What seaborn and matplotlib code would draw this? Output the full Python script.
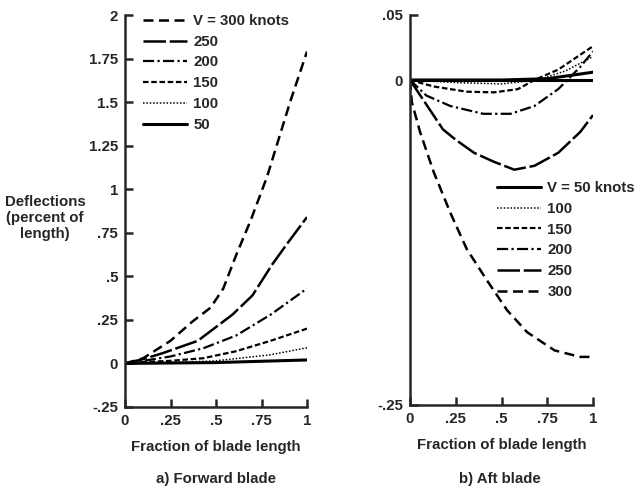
import matplotlib
matplotlib.use("Agg")
import matplotlib.pyplot as plt
import seaborn as sns
import pandas as pd
import numpy as np

sns.set_style("ticks")
plt.rcParams['font.family'] = ['Liberation Sans', 'DejaVu Sans']
plt.rcParams['font.weight'] = 'bold'

speeds = ['300', '250', '200', '150', '100', '50']

# a) Forward blade
fwd_x = {
    '300': [0, 0.1, 0.25, 0.37, 0.47, 0.54, 0.61, 0.69, 0.78, 0.91, 1.0],
    '250': [0, 0.1, 0.21, 0.4, 0.59, 0.7, 0.81, 0.9, 1.0],
    '200': [0, 0.1, 0.25, 0.43, 0.61, 0.8, 1.0],
    '150': [0, 0.1, 0.25, 0.43, 0.61, 0.8, 1.0],
    '100': [0, 0.25, 0.5, 0.8, 1.0],
    '50':  [0, 0.5, 1.0],
}
fwd_y = {
    '300': [0, 0.03, 0.13, 0.24, 0.32, 0.43, 0.62, 0.82, 1.07, 1.51, 1.79],
    '250': [0, 0.025, 0.06, 0.13, 0.28, 0.39, 0.57, 0.70, 0.84],
    '200': [0, 0.015, 0.04, 0.087, 0.16, 0.28, 0.43],
    '150': [0, 0.008, 0.015, 0.03, 0.07, 0.13, 0.20],
    '100': [0, 0.005, 0.015, 0.05, 0.09],
    '50':  [0, 0.005, 0.02],
}

# b) Aft blade
aft_x = {
    '300': [0, 0.01, 0.055, 0.13, 0.22, 0.31, 0.42, 0.53, 0.64, 0.79, 0.93, 1.0],
    '250': [0, 0.09, 0.18, 0.25, 0.35, 0.46, 0.57, 0.68, 0.81, 0.93, 1.0],
    '200': [0, 0.09, 0.22, 0.4, 0.55, 0.68, 0.81, 0.86, 0.93, 1.0],
    '150': [0, 0.13, 0.31, 0.46, 0.59, 0.68, 0.81, 1.0],
    '100': [0, 0.25, 0.5, 0.7, 0.85, 1.0],
    '50':  [0, 0.5, 0.75, 1.0],
}
aft_y = {
    '300': [0, -0.017, -0.04, -0.071, -0.102, -0.13, -0.154, -0.177, -0.194, -0.208, -0.213, -0.213],
    '250': [0, -0.019, -0.038, -0.046, -0.056, -0.063, -0.069, -0.066, -0.056, -0.04, -0.027],
    '200': [0, -0.012, -0.02, -0.026, -0.026, -0.02, -0.007, 0.0, 0.01, 0.022],
    '150': [0, -0.005, -0.009, -0.0095, -0.007, 0.0, 0.008, 0.026],
    '100': [0, -0.002, -0.003, 0.0, 0.007, 0.018],
    '50':  [0, 0.0, 0.001, 0.006],
}

x_ticks = [0, 0.25, 0.5, 0.75, 1]
x_ticklabels = ['0', '.25', '.5', '.75', '1']
fwd_yticks = [-0.25, 0, 0.25, 0.5, 0.75, 1, 1.25, 1.5, 1.75, 2]
fwd_yticklabels = ['-.25', '0', '.25', '.5', '.75', '1', '1.25', '1.5', '1.75', '2']
aft_yticks = [-0.25, 0, 0.05]
aft_yticklabels = ['-.25', '0', '.05']

dashes = {
    '300': (0, (4, 2.2)),
    '250': (0, (9, 1.5)),
    '200': (0, (5, 1.5, 1, 1.5)),
    '150': (0, (2.5, 1.2)),
    '100': (0, (1, 1.2)),
    '50': '-',
}
widths = {'300': 1.8, '250': 1.8, '200': 1.6, '150': 1.6, '100': 1.1, '50': 2.2}

FS = 10.8
fig = plt.figure(figsize=(6.38, 4.93), dpi=100)
axL = fig.add_axes([125/638, 86/493, 182/638, 392/493])
axR = fig.add_axes([410/638, 88/493, 183/638, 390/493])

handles = {}
for ax, xd, yd in [(axL, fwd_x, fwd_y), (axR, aft_x, aft_y)]:
    handles[ax] = {}
    for s in speeds:
        n0 = len(ax.get_lines())
        sns.lineplot(x=xd[s], y=yd[s], ax=ax, color='black', linewidth=widths[s],
                     linestyle=dashes[s], sort=False, estimator=None)
        handles[ax][s] = ax.get_lines()[n0]

axR.axhline(0, color='black', lw=2.2, xmin=0, xmax=1)

for ax in (axL, axR):
    ax.set_xlim(0, 1)
    ax.set_xticks(x_ticks)
    ax.set_xticklabels(x_ticklabels)
    ax.set_xlabel('Fraction of blade length', fontsize=FS, fontweight='bold', labelpad=9)
    ax.set_ylabel('')
    for sp in ('top', 'right'):
        ax.spines[sp].set_visible(False)
    for sp in ('left', 'bottom'):
        ax.spines[sp].set_linewidth(1.8)
    ax.tick_params(direction='in', length=6, width=1.8, labelsize=FS, pad=5)

axL.set_ylim(-0.25, 2)
axL.set_yticks(fwd_yticks)
axL.set_yticklabels(fwd_yticklabels)
axR.set_ylim(-0.25, 0.05)
axR.set_yticks(aft_yticks)
axR.set_yticklabels(aft_yticklabels)

# Legends
for ax, order, anchor in [(axL, speeds, (143/638, 1 - 14/493)),
                          (axR, speeds[::-1], (497/638, 1 - 181/493))]:
    hs = [handles[ax][s] for s in order]
    labs = [('V = %s knots' % s) if i == 0 else s for i, s in enumerate(order)]
    ax.legend(hs, labs, loc='upper left', bbox_to_anchor=anchor,
              bbox_transform=fig.transFigure, frameon=False,
              handlelength=2.9, handletextpad=0.45, labelspacing=0.45,
              borderpad=0, borderaxespad=0,
              prop={'size': FS, 'weight': 'bold'})

fig.text(45/638, 1 - 218/493, 'Deflections\n(percent of\nlength)', ha='center',
         va='center', fontsize=FS, fontweight='bold', linespacing=1.2)
fig.text(216/638, 1 - 479/493, 'a) Forward blade', ha='center', va='center',
         fontsize=FS, fontweight='bold')
fig.text(500/638, 1 - 479/493, 'b) Aft blade', ha='center', va='center',
         fontsize=FS, fontweight='bold')

fig.savefig('out.png', dpi=100)
